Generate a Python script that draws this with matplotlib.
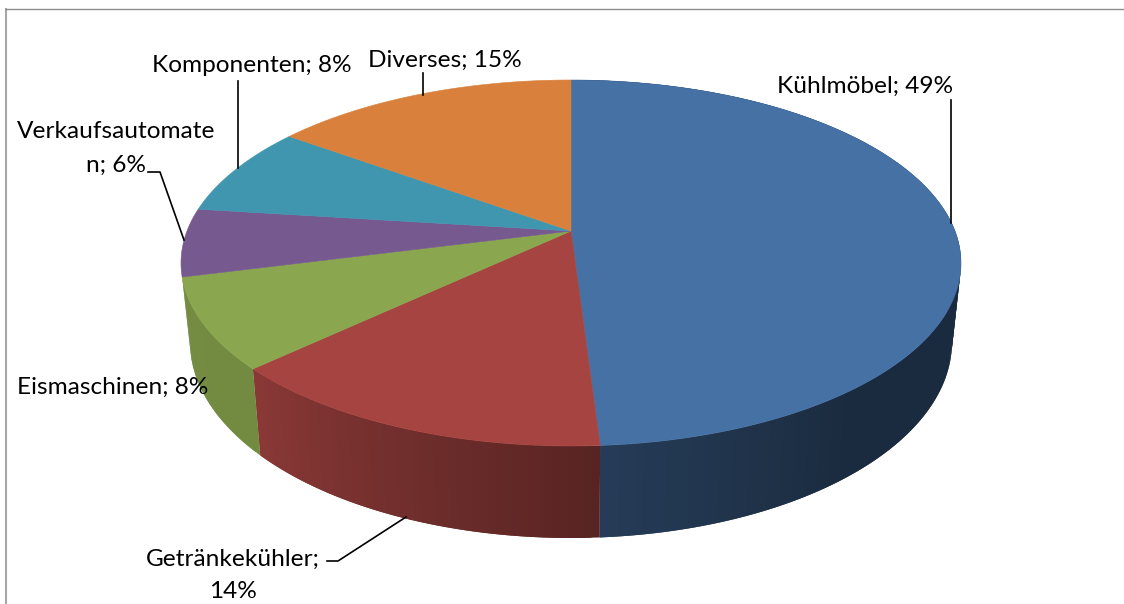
import numpy as np
import matplotlib
matplotlib.use("Agg")
import matplotlib.pyplot as plt
from matplotlib.collections import PolyCollection

categories = ["Kühlmöbel", "Getränkekühler", "Eismaschinen", "Verkaufsautomaten", "Komponenten", "Diverses"]
shares = [49, 14, 8, 6, 8, 15]
colors = ["#4671A5", "#A64441", "#8AA64E", "#75598F", "#4196AF", "#D9813C"]

plt.rcParams['font.family'] = ['Lato', 'DejaVu Sans']

# pie geometry in pixels, k shifts the apex for the perspective look
cx = 571
top_rx, top_ry, top_cy = 390, 183, 263
bot_rx, bot_ry, bot_cy = 381, 196, 342
k = 0.175

def project(theta, rx, ry, cy):
    # theta in degrees, clockwise from 12 o'clock
    u = np.sin(np.radians(theta))
    v = np.cos(np.radians(theta))
    d = 1 + k * v
    x = cx + rx * np.sqrt(1 - k * k) * u / d
    y = cy - ry * (v + k) / d
    return x, y

def wall_shade(theta):
    return np.interp(theta, [90, 140, 176, 226, 270], [0.38, 0.38, 0.53, 0.83, 0.85])

fig = plt.figure(figsize=(11.24, 6.04), dpi=100)
ax = fig.add_axes([0, 0, 1, 1])
ax.set_xlim(0, 1124)
ax.set_ylim(604, 0)
ax.axis("off")

# chart area border, only left and top are in the picture
ax.plot([5.5, 5.5], [8, 604], color="#a6a6a6", lw=1.5, solid_capstyle="butt")
ax.plot([5, 1124], [8.5, 8.5], color="#8c8c8c", lw=1.0, solid_capstyle="butt")

edges = np.concatenate([[0], np.cumsum(shares)]) * 360 / sum(shares)

# side wall first, the top face covers the back of it
# only wedges that reach the front get a wall
for i in range(len(shares)):
    if edges[i] > 250:
        continue
    thetas = np.arange(edges[i], edges[i + 1] + 1.0, 1.0)
    thetas[-1] = edges[i + 1]
    x1, y1 = project(thetas, top_rx, top_ry, top_cy)
    x2, y2 = project(thetas, bot_rx, bot_ry, bot_cy)
    base = np.array(matplotlib.colors.to_rgb(colors[i]))
    polys = []
    cols = []
    # each strip runs under the next one so no white shows through the seams
    for j in range(len(thetas) - 1):
        e = min(j + 2, len(thetas) - 1)
        polys.append([(x1[j], y1[j]), (x1[e], y1[e]), (x2[e], y2[e]), (x2[j], y2[j])])
        cols.append(base * wall_shade(thetas[j]))
    ax.add_collection(PolyCollection(polys, facecolors=cols, edgecolors="none", zorder=2))

# top face
for i in range(len(shares)):
    thetas = np.linspace(edges[i], edges[i + 1], 150)
    x, y = project(thetas, top_rx, top_ry, top_cy)
    ax.fill(np.r_[cx, x], np.r_[231, y], facecolor=colors[i], edgecolor=colors[i], lw=0.4, zorder=3)

# leader lines
leader_color = "black"
ax.plot([950.5, 950.5], [100, 223], color=leader_color, lw=1.2, zorder=4)
ax.plot([423, 423], [73, 95], color=leader_color, lw=1.2, zorder=4)
ax.plot([238, 238], [81, 168], color=leader_color, lw=1.2, zorder=4)
ax.plot([148, 160, 184], [172, 172, 240], color=leader_color, lw=1.2, zorder=4)
ax.plot([327, 338, 406], [561, 561, 517], color=leader_color, lw=1.2, zorder=4)

# labels
fs = 17.6
txt = dict(fontsize=fs, color="black", va="center", zorder=5)
ax.text(953, 86, "%s; %d%%" % (categories[0], shares[0]), ha="right", **txt)
ax.text(233, 559, "%s;" % categories[1], ha="center", **txt)
ax.text(233, 592, "%d%%" % shares[1], ha="center", **txt)
ax.text(17, 387, "%s; %d%%" % (categories[2], shares[2]), ha="left", **txt)
ax.text(116.5, 132, categories[3][:-1], ha="center", **txt)
ax.text(116.5, 165, "%s; %d%%" % (categories[3][-1], shares[3]), ha="center", **txt)
ax.text(152, 66, "%s; %d%%" % (categories[4], shares[4]), ha="left", **txt)
ax.text(368, 60, "%s; %d%%" % (categories[5], shares[5]), ha="left", **txt)

fig.savefig("out.png", dpi=100)
